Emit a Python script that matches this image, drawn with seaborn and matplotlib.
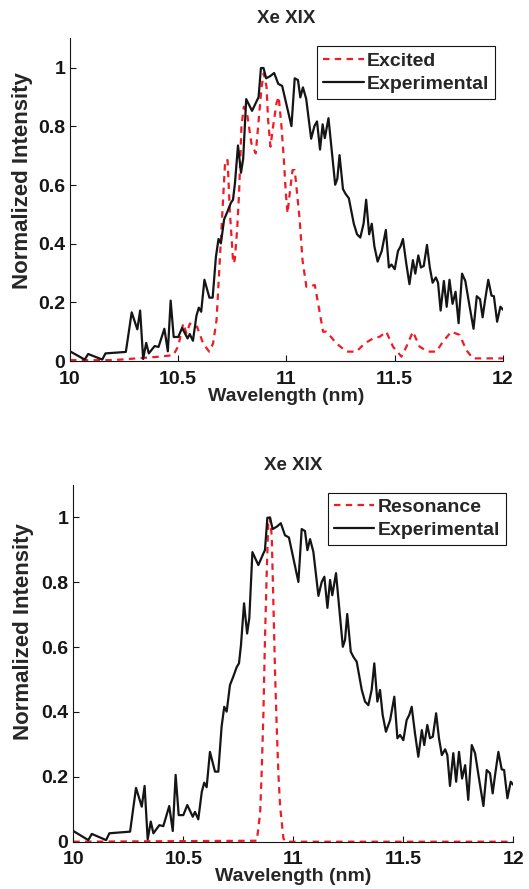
import matplotlib
matplotlib.use("Agg")
import matplotlib.pyplot as plt
import numpy as np
import pandas as pd
import seaborn as sns

# ---------------- data ----------------
exp_wl = [10.000, 10.068, 10.084, 10.149, 10.164, 10.258, 10.285, 10.311, 10.324, 10.338,
          10.352, 10.364, 10.391, 10.409, 10.436, 10.452, 10.465, 10.479, 10.500, 10.518,
          10.543, 10.553, 10.568, 10.584, 10.595, 10.606, 10.621, 10.644, 10.659, 10.674,
          10.686, 10.697, 10.712, 10.727, 10.743, 10.753, 10.762, 10.776, 10.790, 10.800,
          10.814, 10.841, 10.864, 10.871, 10.882, 10.894, 10.906, 10.924, 10.943, 10.962,
          10.980, 11.023, 11.038, 11.053, 11.064, 11.076, 11.091, 11.114, 11.129, 11.141,
          11.155, 11.167, 11.177, 11.194, 11.225, 11.235, 11.245, 11.261, 11.273, 11.288,
          11.311, 11.326, 11.341, 11.356, 11.368, 11.382, 11.394, 11.406, 11.421, 11.440,
          11.459, 11.473, 11.485, 11.500, 11.515, 11.527, 11.538, 11.553, 11.568, 11.584,
          11.595, 11.609, 11.621, 11.634, 11.649, 11.662, 11.675, 11.690, 11.700, 11.712,
          11.727, 11.740, 11.753, 11.767, 11.781, 11.795, 11.811, 11.826, 11.845, 11.864,
          11.879, 11.894, 11.906, 11.917, 11.932, 11.947, 11.958, 11.973, 11.988, 12.000]
exp_int = [0.033, 0.005, 0.024, 0.005, 0.026, 0.031, 0.166, 0.108, 0.172, 0.007,
           0.062, 0.026, 0.051, 0.048, 0.110, 0.033, 0.206, 0.082, 0.082, 0.113,
           0.077, 0.092, 0.069, 0.154, 0.182, 0.168, 0.277, 0.216, 0.216, 0.355,
           0.416, 0.401, 0.483, 0.509, 0.539, 0.550, 0.606, 0.735, 0.642, 0.690,
           0.893, 0.853, 0.889, 0.899, 0.999, 0.999, 0.964, 0.971, 0.982, 0.945,
           0.938, 0.801, 0.964, 0.958, 0.899, 0.933, 0.894, 0.758, 0.801, 0.817,
           0.721, 0.807, 0.760, 0.828, 0.601, 0.622, 0.702, 0.586, 0.570, 0.555,
           0.468, 0.432, 0.421, 0.468, 0.550, 0.432, 0.468, 0.391, 0.339, 0.375,
           0.447, 0.319, 0.329, 0.313, 0.375, 0.391, 0.416, 0.334, 0.262, 0.344,
           0.298, 0.360, 0.319, 0.324, 0.396, 0.319, 0.267, 0.285, 0.267, 0.172,
           0.273, 0.185, 0.277, 0.195, 0.236, 0.129, 0.298, 0.273, 0.190, 0.110,
           0.221, 0.211, 0.149, 0.206, 0.277, 0.223, 0.221, 0.134, 0.185, 0.175]

exc_wl = [10.000, 10.200, 10.415, 10.477, 10.500, 10.523, 10.538, 10.554, 10.569, 10.587,
          10.615, 10.643, 10.661, 10.677, 10.692, 10.707, 10.717, 10.728, 10.738, 10.754,
          10.761, 10.772, 10.781, 10.792, 10.803, 10.818, 10.838, 10.858, 10.869, 10.885,
          10.895, 10.908, 10.915, 10.926, 10.938, 10.954, 10.964, 10.977, 10.988, 10.997,
          11.005, 11.015, 11.028, 11.038, 11.049, 11.061, 11.074, 11.092, 11.131, 11.146,
          11.169, 11.185, 11.231, 11.277, 11.323, 11.361, 11.400, 11.431, 11.461, 11.492,
          11.531, 11.554, 11.584, 11.615, 11.654, 11.692, 11.723, 11.761, 11.800, 11.831,
          11.861, 12.000]
exc_int = [0.003, 0.003, 0.015, 0.020, 0.050, 0.128, 0.094, 0.128, 0.117, 0.117,
           0.060, 0.032, 0.060, 0.140, 0.344, 0.549, 0.685, 0.685, 0.515, 0.333,
           0.344, 0.447, 0.572, 0.799, 0.867, 0.844, 0.742, 0.708, 0.799, 0.935,
           0.981, 0.935, 0.822, 0.731, 0.799, 0.879, 0.901, 0.799, 0.685, 0.572,
           0.504, 0.572, 0.651, 0.651, 0.572, 0.481, 0.344, 0.253, 0.259, 0.197,
           0.100, 0.100, 0.060, 0.032, 0.032, 0.060, 0.077, 0.083, 0.100, 0.049,
           0.015, 0.049, 0.100, 0.049, 0.032, 0.032, 0.066, 0.100, 0.089, 0.037,
           0.009, 0.009]

res_wl = [10.000, 10.834, 10.849, 10.856, 10.864, 10.871, 10.879, 10.886, 10.894, 10.902,
          10.909, 10.917, 10.925, 10.932, 10.940, 10.955, 10.965, 12.000]
res_int = [0.000, 0.003, 0.087, 0.211, 0.396, 0.622, 0.827, 0.981, 1.000, 0.940,
           0.745, 0.519, 0.344, 0.211, 0.108, 0.010, 0.000, 0.000]

title = "Xe XIX"
xlabel = "Wavelength (nm)"
ylabel = "Normalized Intensity"
xticks = [10, 10.5, 11, 11.5, 12]
xticklabels = ["10", "10.5", "11", "11.5", "12"]
yticks = [0, 0.2, 0.4, 0.6, 0.8, 1.0]
yticklabels = ["0", "0.2", "0.4", "0.6", "0.8", "1"]

# ---------------- style ----------------
sns.set_style("ticks")
plt.rcParams["font.family"] = ["Liberation Sans", "DejaVu Sans"]
plt.rcParams["font.weight"] = "bold"
plt.rcParams["axes.labelweight"] = "bold"
plt.rcParams["axes.titleweight"] = "bold"

FS = 14
RED = "#ee1c25"
BLACK = "#151515"
DASH = (0, (2.9, 2.4))

df_exp = pd.DataFrame({"wl": exp_wl, "I": exp_int})
df_exc = pd.DataFrame({"wl": exc_wl, "I": exc_int})
df_res = pd.DataFrame({"wl": res_wl, "I": res_int})

fig = plt.figure(figsize=(5.29, 8.89), dpi=100)
ax1 = fig.add_axes([0.1323, 0.5939, 0.8185, 0.3629])
ax2 = fig.add_axes([0.1386, 0.0532, 0.8318, 0.4013])


def style_axes(ax, sim_df, sim_label, ylab_xy):
    sns.lineplot(data=sim_df, x="wl", y="I", ax=ax, color=RED, linewidth=1.6,
                 linestyle=DASH, label=sim_label, sort=False, estimator=None)
    sns.lineplot(data=df_exp, x="wl", y="I", ax=ax, color=BLACK, linewidth=1.6,
                 label="Experimental", sort=False, estimator=None)
    ax.set_xlim(10, 12)
    ax.set_ylim(0, 1.1)
    ax.set_xticks(xticks)
    ax.set_xticklabels(xticklabels)
    ax.set_yticks(yticks)
    ax.set_yticklabels(yticklabels)
    ax.tick_params(direction="in", length=4, width=0.8, labelsize=FS,
                   colors=BLACK)
    ax.tick_params(axis="x", pad=7)
    ax.tick_params(axis="y", pad=3.5)
    for s in ["top", "right"]:
        ax.spines[s].set_visible(False)
    for s in ["left", "bottom"]:
        ax.spines[s].set_linewidth(0.8)
        ax.spines[s].set_color(BLACK)
    for lbl in ax.get_xticklabels() + ax.get_yticklabels():
        lbl.set_fontweight("bold")
    ax.set_xlabel(xlabel, fontsize=FS, fontweight="bold", labelpad=0)
    ax.set_ylabel(ylabel, fontsize=16, fontweight="bold")
    ax.yaxis.set_label_coords(*ylab_xy)
    ax.set_title(title, fontsize=13.5, fontweight="bold", pad=11)
    leg = ax.legend(loc="upper right", frameon=True, fancybox=False,
                    framealpha=1, edgecolor=BLACK, handlelength=2.1,
                    handletextpad=0.15, borderpad=0.3, labelspacing=0.28,
                    borderaxespad=0.4, prop={"weight": "bold", "size": FS})
    leg.get_frame().set_linewidth(0.8)


style_axes(ax1, df_exc, "Excited", (-0.085, 0.56))
style_axes(ax2, df_res, "Resonance", (-0.09, 0.59))

fig.savefig("out.png", dpi=100)
